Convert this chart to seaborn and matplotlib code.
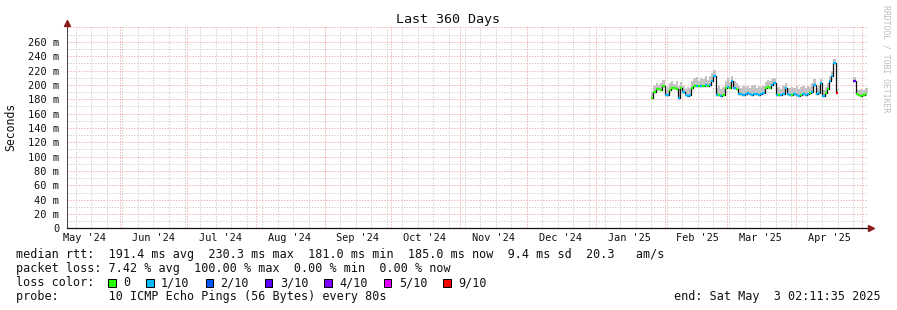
import numpy as np
import pandas as pd
import matplotlib
matplotlib.use("Agg")
import matplotlib.pyplot as plt
import matplotlib.dates as mdates
from matplotlib.patches import Rectangle
import seaborn as sns

# ---------------- data ----------------
start_date = "2025-01-26"          # first daily value
end_time = "2025-05-03 02:11:35"
begin_time = "2024-05-08 02:11:35"

# daily median RTT (ms); None = no data
median_ms = [
    182, 190, 194, 194, 193, 198, 186, 186, 193, 195,   # Jan 26 - Feb 4
    195, 194, 182, 195, 190, 186, 185, 186, 196, 198,   # Feb 5 - Feb 14
    199, 198, 199, 199, 200, 199, 200, 206, 212, 186,   # Feb 15 - Feb 24
    186, 185, 186, 195, 197, 196, 206, 196, 194, 187,   # Feb 25 - Mar 6
    187, 186, 187, 188, 187, 186, 187, 187, 186, 187,   # Mar 7 - Mar 16
    188, 195, 197, 196, 200, 202, 186, 186, 186, 187,   # Mar 17 - Mar 26
    196, 187, 186, 186, 187, 186, 185, 186, 187, 186,   # Mar 27 - Apr 5
    187, 188, 190, 200, 187, 188, 203, 184, 188, 194,   # Apr 6 - Apr 15
    205, 212, 230, 188, None, None, None, None, None, None,  # Apr 16 - Apr 25
    None, 205, 187, 186, 185, 186, 187, 189,             # Apr 26 - May 3
]
# index into loss colours (0 -> "0", 1 -> "1/10", ...), -1 = no data
loss_idx = [
    0, 0, 0, 0, 0, 0, 1, 1, 0, 0,
    0, 0, 1, 0, 1, 1, 1, 1, 0, 0,
    1, 0, 1, 0, 1, 0, 1, 1, 1, 1,
    0, 1, 0, 0, 1, 0, 1, 1, 0, 1,
    1, 1, 1, 1, 1, 1, 1, 1, 1, 1,
    1, 0, 0, 0, 1, 1, 1, 0, 1, 1,
    1, 1, 1, 0, 1, 1, 1, 0, 1, 1,
    1, 0, 1, 1, 1, 1, 1, 1, 0, 0,
    1, 1, 1, 6, -1, -1, -1, -1, -1, -1,
    -1, 3, 0, 0, 0, 0, 0, 0,
]
# upper edge of the smoke (ms)
smoke_hi_ms = [
    190, 198, 202, 200, 203, 207, 193, 197, 202, 206,
    201, 205, 198, 204, 199, 194, 197, 196, 206, 209,
    211, 206, 210, 208, 212, 207, 213, 216, 221, 195,
    198, 194, 197, 205, 209, 204, 213, 205, 202, 198,
    196, 199, 197, 198, 196, 198, 200, 196, 199, 197,
    199, 204, 207, 205, 208, 209, 195, 197, 194, 198,
    203, 196, 195, 197, 195, 198, 194, 197, 198, 195,
    198, 197, 202, 208, 195, 198, 208, 193, 197, 202,
    212, 220, 236, 194, None, None, None, None, None, None,
    None, 211, 194, 193, 194, 193, 195, 196,
]

loss_labels = ["0", "1/10", "2/10", "3/10", "4/10", "5/10", "9/10"]
loss_colors = ["#26ff00", "#00b8ff", "#0059ff", "#5e00ff", "#7e00ff", "#dd00ff", "#ff0000"]

y_ticks = [0, 20, 40, 60, 80, 100, 120, 140, 160, 180, 200, 220, 240, 260]
y_tick_labels = ["0"] + [f"{v} m" for v in y_ticks[1:]]
month_labels = ["May '24", "Jun '24", "Jul '24", "Aug '24", "Sep '24", "Oct '24",
                "Nov '24", "Dec '24", "Jan '25", "Feb '25", "Mar '25", "Apr '25"]
month_label_dates = ["2024-05-16", "2024-06-16", "2024-07-16", "2024-08-16", "2024-09-16",
                     "2024-10-16", "2024-11-16", "2024-12-16", "2025-01-16", "2025-02-16",
                     "2025-03-16", "2025-04-16"]

title = "Last 360 Days"
legend_line1 = "median rtt:  191.4 ms avg  230.3 ms max  181.0 ms min  185.0 ms now  9.4 ms sd  20.3   am/s"
legend_line2 = "packet loss: 7.42 % avg  100.00 % max  0.00 % min  0.00 % now"
legend_line3 = "loss color:"
legend_line4 = "probe:       10 ICMP Echo Pings (56 Bytes) every 80s"
end_text = "end: Sat May  3 02:11:35 2025"

# ---------------- frame ----------------
dates = pd.date_range(start_date, periods=len(median_ms), freq="D")
df = pd.DataFrame({
    "date": dates,
    "median": pd.array(median_ms, dtype="float"),
    "hi": pd.array(smoke_hi_ms, dtype="float"),
    "loss": loss_idx,
})
df["median"] = df["median"].astype(float)
df["hi"] = df["hi"].astype(float)
valid = df["median"].notna()
df["segment"] = (~valid).cumsum()
dfv = df[valid].copy()

W, H = 897, 310
sns.set_theme(style="white")
plt.rcParams["font.family"] = ["DejaVu Sans Mono"]
fig = plt.figure(figsize=(W / 100, H / 100), dpi=100, facecolor="white")

x0, x1, y0, ytop = 67, 867, 228.4, 26
ax = fig.add_axes([x0 / W, 1 - y0 / H, (x1 - x0) / W, (y0 - ytop) / H])
ax.set_facecolor("white")
px_per_ms = 0.7177
ax.set_ylim(0, (y0 - ytop) / px_per_ms)
t0, t1 = pd.Timestamp(begin_time), pd.Timestamp(end_time)
ax.set_xlim(mdates.date2num(t0), mdates.date2num(t1))

dots = (0, (1.39, 1.39))
red_grid = "#f5b4b4"
gray_grid = "#d2d2d2"
# grid lines
for v in range(10, 290, 10):
    if v % 20 == 0:
        ax.axhline(v, color=red_grid, lw=0.72, ls=dots, zorder=0.5)
    else:
        ax.axhline(v, color=gray_grid, lw=0.72, ls=dots, zorder=0)
weeks = pd.date_range("2024-05-12", t1, freq="W-SUN")
months = pd.date_range("2024-06-01", t1, freq="MS")
for d in weeks:
    ax.axvline(mdates.date2num(d), color=gray_grid, lw=0.72, ls=dots, zorder=0)
for d in months:
    ax.axvline(mdates.date2num(d), color=red_grid, lw=0.72, ls=dots, zorder=0.5)

# smoke
for seg, g in dfv.groupby("segment"):
    xs = mdates.date2num(g["date"])
    xs = np.append(xs, xs[-1] + 1)
    lo = np.append(g["median"].values, g["median"].values[-1])
    hi = np.append(g["hi"].values, g["hi"].values[-1])
    ax.fill_between(xs, lo, hi, step="post", color="#c4c4c4", lw=0, zorder=2)

# median line (black steps) and loss coloured segments
sns.lineplot(data=dfv, x="date", y="median", units="segment", estimator=None,
             drawstyle="steps-post", color="#111111", lw=0.9, ax=ax, legend=False, zorder=3)
xs = mdates.date2num(dfv["date"])
ax.hlines(dfv["median"].values, xs, xs + 1,
          colors=[loss_colors[i] for i in dfv["loss"]], lw=1.6, zorder=4)

# axes styling
ax.set_xlabel("")
ax.set_ylabel("")
for s in ["top", "right"]:
    ax.spines[s].set_visible(False)
ax.spines["left"].set_color("#444444")
ax.spines["left"].set_linewidth(0.72)
ax.spines["bottom"].set_color("#111111")
ax.spines["bottom"].set_linewidth(0.9)
ax.plot([1, 1.006], [0, 0], transform=ax.transAxes, color="#111111", lw=0.9, clip_on=False)
ax.plot([1.005], [0], transform=ax.transAxes, marker=">", ms=4, color="#8b1a1a",
        mec="#8b1a1a", clip_on=False, zorder=6)
ax.plot([0], [1.014], transform=ax.transAxes, marker="^", ms=4, color="#8b1a1a",
        mec="#8b1a1a", clip_on=False, zorder=6)
ax.plot([0, 0], [1, 1.01], transform=ax.transAxes, color="#444444", lw=0.72, clip_on=False)

ax.set_yticks(y_ticks)
ax.set_yticklabels(y_tick_labels)
ax.set_yticks(list(range(10, 280, 20)), minor=True)
ax.tick_params(axis="y", which="major", direction="out", length=2.5, width=0.72,
               color="#555555", pad=3, labelsize=7.5, labelcolor="#111111")
ax.tick_params(axis="y", which="minor", direction="out", length=1.5, width=0.72,
               color="#888888")
ax.set_xticks(mdates.date2num(pd.to_datetime(month_label_dates)))
ax.set_xticklabels(month_labels)
ax.set_xticks(mdates.date2num(weeks), minor=True)
ax.tick_params(axis="x", which="major", length=0, pad=3.5, labelsize=7.4, labelcolor="#111111")
ax.tick_params(axis="x", which="minor", direction="in", length=2, width=0.72, color="#bbbbbb")
ax.grid(False)

# texts
fig.text(448 / W, 1 - 23 / H, title, ha="center", va="baseline", fontsize=9.6, color="#111111")
fig.text(10.5 / W, 1 - 126.5 / H, "Seconds", rotation=90, ha="center", va="center",
         fontsize=8.3, color="#111111")
fig.text(886 / W, 1 - 59 / H, "RRDTOOL / TOBI OETIKER", rotation=270, ha="center",
         va="center", fontsize=5.9, color="#bdbdbd")

fs = 8.5
fig.text(16 / W, 1 - 258 / H, legend_line1, va="baseline", fontsize=fs, color="#111111")
fig.text(16 / W, 1 - 272 / H, legend_line2, va="baseline", fontsize=fs, color="#111111")
fig.text(16 / W, 1 - 286 / H, legend_line3, va="baseline", fontsize=fs, color="#111111")
fig.text(16 / W, 1 - 300 / H, legend_line4, va="baseline", fontsize=fs, color="#111111")
fig.text(881 / W, 1 - 300 / H, end_text, ha="right", va="baseline", fontsize=fs, color="#111111")

bx = 108.0
for lab, col in zip(loss_labels, loss_colors):
    fig.patches.append(Rectangle((bx / W, 1 - 286.5 / H), 7.5 / W, 8 / H,
                                 transform=fig.transFigure, facecolor=col,
                                 edgecolor="#000000", lw=0.72))
    fig.text((bx + 15) / W, 1 - 286 / H, lab, va="baseline", fontsize=fs, color="#111111")
    bx += 15 + len(lab) * 7.1 + 16

fig.savefig("out.png", dpi=100, facecolor="white")
